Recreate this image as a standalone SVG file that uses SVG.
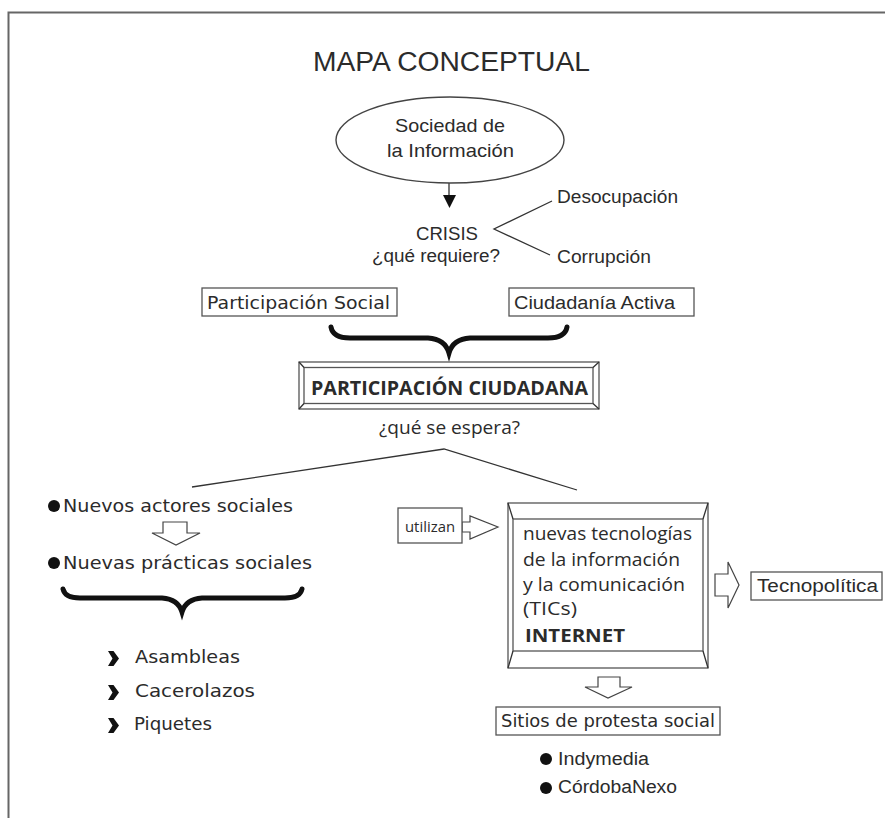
<svg xmlns="http://www.w3.org/2000/svg" width="885" height="818" viewBox="0 0 885 818">
<style>
  .t { font-family: "Liberation Sans", Arial, sans-serif; fill: #2b2b2b; }
  .g { font-family: "DejaVu Sans", "Liberation Sans", sans-serif; fill: #2b2b2b; }
  .o { font-family: "Open Sans", "Liberation Sans", sans-serif; fill: #2b2b2b; }
  .box { fill: #fff; stroke: #555; stroke-width: 1.3; }
  .ln { fill: none; stroke: #333; stroke-width: 1.3; }
  .hollow { fill: #fff; stroke: #444; stroke-width: 1.2; stroke-linejoin: miter; }
  .brace { fill: none; stroke: #111; stroke-width: 5; stroke-linecap: round; stroke-linejoin: miter; }
  .dot { fill: #111; }
  .chev { fill: #111; }
</style>
<rect width="885" height="818" fill="#fff"/>
<g id="frame">
  <path d="M8.5,818 V12.5 H885" fill="none" stroke="#666" stroke-width="2"/>
</g>
<g id="title">
  <text class="t" x="313" y="71" font-size="27" textLength="277" lengthAdjust="spacingAndGlyphs">MAPA CONCEPTUAL</text>
</g>
<g id="connectors">
  <line class="ln" x1="449" y1="183" x2="449" y2="197"/>
  <polygon points="443,195 456,195 449.5,208" fill="#111"/>
  <polyline class="ln" points="552,201 494,229 550,255"/>
  <path class="brace" d="M331,327 Q333,338 350,338 L428,338 Q445,339 449,353 Q453,339 470,338 L548,338 Q565,338 567,327"/>
  <polyline class="ln" points="192,487 444,449 577,490"/>
  <polygon class="hollow" points="163,522 187,522 187,533 200,533 176,545 152,533 163,533"/>
  <path class="brace" d="M63,589 Q65,598 80,598 L162,598 Q178,599 182,612 Q186,599 202,598 L285,598 Q300,598 302,589"/>
  <polygon class="hollow" points="462,522 470,522 470,516 498,527 470,539 470,532 462,532"/>
  <polygon class="hollow" points="715,574 728,574 728,562 739,585 728,608 728,596 715,596"/>
  <polygon class="hollow" points="598,677 620,677 620,687 632,687 608,698 585,687 598,687"/>
</g>
<g id="sociedad">
  <ellipse cx="450" cy="140" rx="114" ry="43" fill="#fff" stroke="#444" stroke-width="1.4"/>
  <text class="t" x="395" y="132" font-size="19" textLength="110" lengthAdjust="spacingAndGlyphs">Sociedad de</text>
  <text class="t" x="387" y="157" font-size="19" textLength="127" lengthAdjust="spacingAndGlyphs">la Información</text>
</g>
<g id="crisis">
  <text class="t" x="416" y="240" font-size="18" textLength="62" lengthAdjust="spacingAndGlyphs">CRISIS</text>
  <text class="t" x="372" y="262" font-size="18" textLength="128" lengthAdjust="spacingAndGlyphs">¿qué requiere?</text>
</g>
<g id="desocupacion">
  <text class="t" x="557" y="203" font-size="18" textLength="121" lengthAdjust="spacingAndGlyphs">Desocupación</text>
</g>
<g id="corrupcion">
  <text class="t" x="557" y="263" font-size="18" textLength="94" lengthAdjust="spacingAndGlyphs">Corrupción</text>
</g>
<g id="participacion-social">
  <rect class="box" x="202" y="288" width="195" height="28"/>
  <text class="g" x="207" y="309" font-size="18" textLength="183" lengthAdjust="spacingAndGlyphs">Participación Social</text>
</g>
<g id="ciudadania-activa">
  <rect class="box" x="509" y="288" width="185" height="28"/>
  <text class="t" x="514" y="309" font-size="18" textLength="161" lengthAdjust="spacingAndGlyphs">Ciudadanía Activa</text>
</g>
<g id="participacion-ciudadana">
  <rect class="box" x="299" y="362" width="300" height="47"/>
  <rect class="box" x="304" y="367.5" width="289" height="36"/>
  <path class="ln" d="M299,362 L304,367.5 M599,362 L593,367.5 M299,409 L304,403.5 M599,409 L593,403.5" stroke="#555"/>
  <text class="o" x="311" y="395" font-size="20" font-weight="bold" textLength="277" lengthAdjust="spacingAndGlyphs">PARTICIPACIÓN CIUDADANA</text>
  <text class="o" x="379" y="434" font-size="18" textLength="141" lengthAdjust="spacingAndGlyphs">¿qué se espera?</text>
</g>
<g id="nuevos-actores">
  <circle class="dot" cx="54" cy="506" r="6"/>
  <text class="g" x="63" y="512" font-size="18" textLength="230" lengthAdjust="spacingAndGlyphs">Nuevos actores sociales</text>
</g>
<g id="nuevas-practicas">
  <circle class="dot" cx="54" cy="563" r="6"/>
  <text class="g" x="63" y="569" font-size="18" textLength="249" lengthAdjust="spacingAndGlyphs">Nuevas prácticas sociales</text>
</g>
<g id="asambleas">
  <polygon class="chev" points="108,651 113.5,651 119,658.5 113.5,666 108,666 112.5,658.5"/>
  <text class="g" x="135" y="663" font-size="18" textLength="105" lengthAdjust="spacingAndGlyphs">Asambleas</text>
</g>
<g id="cacerolazos">
  <polygon class="chev" points="108,685 113.5,685 119,692.5 113.5,700 108,700 112.5,692.5"/>
  <text class="g" x="135" y="697" font-size="18" textLength="120" lengthAdjust="spacingAndGlyphs">Cacerolazos</text>
</g>
<g id="piquetes">
  <polygon class="chev" points="108,718 113.5,718 119,725.5 113.5,733 108,733 112.5,725.5"/>
  <text class="g" x="134" y="730" font-size="18" textLength="78" lengthAdjust="spacingAndGlyphs">Piquetes</text>
</g>
<g id="utilizan">
  <rect class="box" x="398" y="508" width="64" height="35"/>
  <text class="o" x="405" y="532" font-size="14" textLength="50" lengthAdjust="spacingAndGlyphs">utilizan</text>
</g>
<g id="tics">
  <rect class="box" x="508" y="503" width="200" height="165"/>
  <rect class="box" x="513" y="519" width="190" height="132"/>
  <path class="ln" d="M508,503 L513,519 M708,503 L703,519 M508,668 L513,651 M708,668 L703,651" stroke="#555"/>
  <text class="o" x="523" y="540" font-size="18" textLength="169" lengthAdjust="spacingAndGlyphs">nuevas tecnologías</text>
  <text class="o" x="523" y="566" font-size="18" textLength="157" lengthAdjust="spacingAndGlyphs">de la información</text>
  <text class="o" x="523" y="591" font-size="18" textLength="162" lengthAdjust="spacingAndGlyphs">y la comunicación</text>
  <text class="o" x="523" y="615" font-size="18" textLength="54" lengthAdjust="spacingAndGlyphs">(TICs)</text>
  <text class="o" x="525" y="642" font-size="18" font-weight="bold" textLength="100" lengthAdjust="spacingAndGlyphs">INTERNET</text>
</g>
<g id="tecnopolitica">
  <rect class="box" x="751" y="572" width="131" height="28"/>
  <text class="t" x="757" y="592" font-size="18" textLength="121" lengthAdjust="spacingAndGlyphs">Tecnopolítica</text>
</g>
<g id="sitios">
  <rect class="box" x="496" y="707" width="224" height="28"/>
  <text class="g" x="501" y="727" font-size="18" textLength="214" lengthAdjust="spacingAndGlyphs">Sitios de protesta social</text>
</g>
<g id="indymedia">
  <circle class="dot" cx="546" cy="759" r="6"/>
  <text class="t" x="558" y="765" font-size="18" textLength="91" lengthAdjust="spacingAndGlyphs">Indymedia</text>
</g>
<g id="cordobanexo">
  <circle class="dot" cx="546" cy="788" r="6"/>
  <text class="t" x="558" y="793" font-size="18" textLength="119" lengthAdjust="spacingAndGlyphs">CórdobaNexo</text>
</g>
</svg>
